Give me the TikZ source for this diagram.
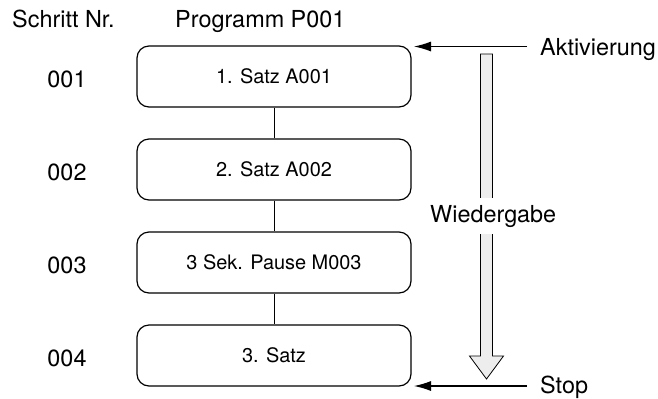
\documentclass[tikz,border=0pt]{standalone}
\usepackage{fontspec}
\setmainfont{TeX Gyre Heros}
\usetikzlibrary{arrows.meta}
\begin{document}
\begin{tikzpicture}[x=1bp,y=-1bp,
  stepbox/.style={draw,line width=1.2bp,rounded corners=12bp,minimum width=274bp,minimum height=61bp,inner sep=0pt,font=\fontsize{20}{24}\selectfont},
  lbl/.style={inner sep=0pt,font=\fontsize{23.5}{28}\selectfont},
  link/.style={line width=0.9bp},
  pointer/.style={line width=1.1bp,-{Latex[length=17bp,width=10bp]}},
  hollow/.style={draw,line width=0.8bp,fill=black!7}]
\useasboundingbox (0,0) rectangle (658,398);
% headers
\node[lbl,anchor=base west] (hs) at (12,27) {Schritt Nr.};
\node[lbl,anchor=base west] (hp) at (175,27) {Programm P001};
% boxes
\node[stepbox] (b1) at (274,76.5) {1. Satz A001};
\node[stepbox] (b2) at (274,169.5) {2. Satz A002};
\node[stepbox] (b3) at (274,262.5) {3 Sek. Pause M003};
\node[stepbox] (b4) at (274,355.5) {3. Satz};
% step numbers
\node[lbl,anchor=base] (n1) at (67,87) {001};
\node[lbl,anchor=base] (n2) at (67,180) {002};
\node[lbl,anchor=base] (n3) at (67,273) {003};
\node[lbl,anchor=base] (n4) at (67,366) {004};
% links
\draw[link] (b1) -- (b2);
\draw[link] (b2) -- (b3);
\draw[link] (b3) -- (b4);
% hollow arrow
\draw[hollow] (480.5,54) -- (492.5,54) -- (492.5,356) -- (503.5,356) -- (486.5,379) -- (469.5,356) -- (480.5,356) -- cycle;
\node[lbl,anchor=base west,fill=white,inner ysep=7bp,inner xsep=0pt] (wg) at (430,222) {Wiedergabe};
% labels with arrows
\node[lbl,anchor=base west] (akt) at (540,55) {Aktivierung};
\node[lbl,anchor=base west] (stp) at (540,393) {Stop};
\coordinate (a0) at (527,46.5);
\coordinate (a1) at (414,46.5);
\coordinate (s0) at (527,386);
\coordinate (s1) at (414,386);
\draw[pointer] (a0) -- (a1);
\draw[pointer] (s0) -- (s1);
\end{tikzpicture}
\end{document}
